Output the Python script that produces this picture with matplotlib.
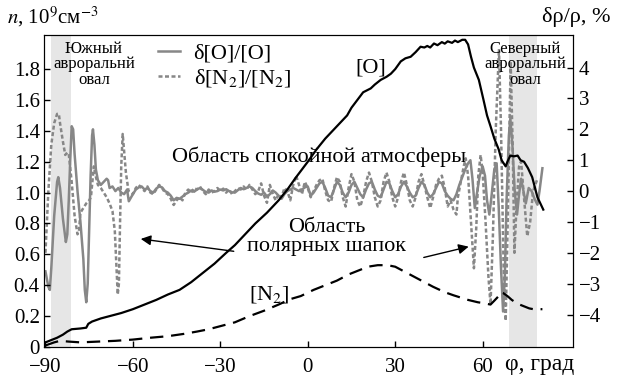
import matplotlib
matplotlib.use("Agg")
import matplotlib.pyplot as plt
from matplotlib.lines import Line2D

plt.rcParams["font.family"] = ["Liberation Serif", "DejaVu Serif"]
plt.rcParams["mathtext.fontset"] = "stix"

# ------------------------
# data
# ------------------------
# [O] concentration, 10^9 cm^-3 (left axis)
phi_O = [-90, -88, -86, -84, -82.5, -81, -78, -76, -75.3, -74, -71, -68, -64, -60, -56, -52,
         -48, -44, -40, -36, -32, -28, -25, -22, -18, -14, -10, -7, -4, -2, 0, 3, 6, 8, 11,
         13.5, 15, 17, 19, 21.6, 23, 25, 27, 28.5, 30, 31.9, 33.5, 35.3, 37, 38.7, 40, 41, 42,
         43.3, 44.5, 46, 47, 48, 49.5, 50.5, 51.5, 53, 54, 55, 56, 57, 58.7, 60.3, 61.5, 62.7,
         64, 65.5, 66.5, 67.9, 68.5, 69.5, 70.7, 72, 73, 74.2, 75.5, 77, 78.8, 80.8]
n_O = [0.03, 0.045, 0.06, 0.08, 0.1, 0.115, 0.12, 0.125, 0.15, 0.165, 0.185, 0.2, 0.22, 0.245,
       0.275, 0.305, 0.34, 0.37, 0.42, 0.48, 0.54, 0.61, 0.66, 0.72, 0.8, 0.87, 0.95, 1.02,
       1.1, 1.15, 1.2, 1.28, 1.35, 1.39, 1.45, 1.5, 1.55, 1.6, 1.65, 1.675, 1.7, 1.73, 1.75,
       1.77, 1.8, 1.85, 1.87, 1.88, 1.91, 1.945, 1.94, 1.95, 1.94, 1.966, 1.955, 1.975, 1.965,
       1.98, 1.97, 1.985, 1.975, 1.99, 1.99, 1.96, 1.88, 1.81, 1.73, 1.6, 1.5, 1.43, 1.35,
       1.28, 1.21, 1.17, 1.2, 1.24, 1.235, 1.24, 1.21, 1.2, 1.16, 1.1, 0.97, 0.89]

# [N2] concentration (left axis)
phi_N2 = [-90, -87, -85, -82, -78, -72, -66, -60, -54, -48, -42.5, -38, -34, -30, -25, -20,
          -15, -10, -6, -2.4, 2, 6, 10, 14, 18, 20.6, 24, 27.4, 30, 32, 36, 40, 43, 47, 50,
          52.5, 55, 58.3, 60, 62.7, 64, 65.5, 66.2, 67, 68.5, 70, 72, 74, 76, 77.4, 80.5]
n_N2 = [0.01, 0.03, 0.04, 0.035, 0.03, 0.035, 0.04, 0.048, 0.06, 0.07, 0.085, 0.1, 0.115,
        0.135, 0.16, 0.2, 0.235, 0.275, 0.31, 0.33, 0.37, 0.4, 0.43, 0.47, 0.5, 0.52, 0.53,
        0.53, 0.52, 0.5, 0.46, 0.42, 0.39, 0.355, 0.335, 0.32, 0.305, 0.29, 0.285, 0.275,
        0.3, 0.33, 0.355, 0.35, 0.33, 0.305, 0.28, 0.265, 0.25, 0.245, 0.245]

# quiet-zone latitudes, 1 degree apart
phi_mid = list(range(-60, 51))

# delta[O]/[O], % (right axis)
phi_dO_south = [-90, -89, -88.5, -88, -87, -86, -85.6, -85, -84, -83, -82.5, -82, -81.5, -81,
                -80.5, -80, -79, -78, -77, -76.5, -76, -75.5, -75, -74.5, -74, -73.7, -73.2,
                -72.7, -72, -71, -70, -69, -68.5, -68, -67, -66, -65, -64, -63, -62, -61.4]
dO_south = [-2.6, -3.1, -3.2, -2.5, -0.8, 0.3, 0.45, 0.1, -0.9, -1.65, -1.4, -0.3, 1.0, 2.1,
            2.0, 1.2, 0.0, -1.0, -2.2, -3.2, -3.6, -3.0, -1.2, 0.5, 1.8, 2.0, 1.5, 0.7, 0.35,
            0.2, 0.3, 0.4, 0.35, 0.1, 0.15, 0.0, 0.1, -0.05, -0.1, 0.05, -0.33]
dO_mid = [-0.1, 0.05, 0.12, 0.15, 0.05, 0.1, 0.0, -0.05, 0.08, 0.15, 0.12, 0.0, -0.05, -0.15,
          -0.3, -0.22, -0.25, -0.18, -0.1, -0.05, 0.02, -0.02, 0.05, 0.1, 0.04, -0.03, -0.05,
          0.02, -0.02, 0.0, 0.05, 0.02, 0.06, 0.0, -0.04, -0.05, 0.03, 0.1, 0.06, 0.1, 0.15,
          0.1, 0.0, -0.08, -0.12, -0.05, -0.18, -0.1, 0.02, -0.05, -0.15, -0.25, -0.1, 0.0,
          0.05, 0.1, 0.05, 0.0, 0.05, 0.12, 0.15, -0.15, -0.05, 0.1, 0.25, 0.3, 0.1, -0.15,
          -0.2, 0.05, 0.3, 0.2, -0.05, -0.2, -0.05, 0.2, 0.3, 0.1, -0.1, -0.2, 0.05, 0.25, 0.3,
          0.05, -0.15, -0.2, 0.05, 0.3, 0.25, 0.0, -0.2, -0.1, 0.15, 0.3, 0.15, -0.05, -0.2,
          -0.15, 0.1, 0.3, 0.2, -0.05, -0.2, -0.1, 0.1, 0.3, 0.25, 0.0, -0.15, -0.25, -0.3]
phi_dO_north = [51, 52, 53, 54, 55, 55.8, 56.5, 57.3, 58, 59, 60, 60.8, 61.5, 62.3, 63, 64,
                64.8, 65.5, 66.3, 67, 67.6, 68.2, 69, 69.5, 70.2, 71, 71.8, 72.5, 73.2, 74,
                74.8, 75.8, 76.8, 77.8, 78.8, 79.5, 80.5]
dO_north = [-0.1, 0.2, 0.45, 0.7, 0.9, 1.0, 0.4, -0.55, -0.1, 0.5, 0.8, 0.5, -0.3, -0.76,
            -0.2, 0.7, 0.9, -0.5, -2.5, -3.9, -2.8, -0.3, 1.8, 2.35, 1.5, 0.0, -0.76, -0.1,
            0.4, 0.0, -0.4, 0.1, 0.0, -0.25, -0.44, 0.0, 0.74]

# delta[N2]/[N2], % (right axis)
phi_dN_south = [-90, -89, -88, -87, -86, -85.4, -85, -84, -83.2, -82.5, -82, -81, -80, -79,
                -78.5, -78, -77, -76, -75, -74.4, -73.8, -73.4, -72.8, -72, -71, -70, -69,
                -68, -67, -66.2, -65.6, -65.2, -64.8, -64.4, -64, -63.5, -63, -62.4, -61.5]
dN_south = [-2.0, 0.0, 1.5, 2.2, 2.5, 2.5, 2.2, 1.6, 1.17, 1.25, 1.2, 0.3, -0.8, -1.4, -1.3,
            -0.7, -0.55, -0.4, -0.3, -0.2, 0.4, 0.8, 0.5, 0.2, 0.1, -0.05, -0.2, -0.4, -0.65,
            -1.3, -2.5, -3.35, -3.0, -1.0, 0.8, 1.85, 1.3, 0.6, 0.0]
dN_mid = [-0.1, 0.1, 0.2, 0.1, 0.0, 0.15, -0.05, -0.1, 0.05, 0.2, 0.1, -0.05, -0.1, -0.25,
          -0.45, -0.3, -0.2, -0.3, -0.05, 0.05, -0.05, 0.1, 0.05, 0.15, 0.0, -0.1, 0.05, -0.05,
          0.0, 0.1, 0.0, 0.08, -0.05, 0.05, -0.1, 0.0, 0.1, 0.05, 0.15, 0.05, 0.2, 0.05, -0.1,
          0.0, 0.25, -0.15, -0.38, 0.2, -0.1, -0.3, -0.1, -0.2, 0.1, 0.0, -0.3, 0.2, 0.5, 0.2,
          -0.1, 0.3, 0.1, -0.2, 0.0, 0.2, 0.35, 0.4, 0.0, -0.3, -0.35, 0.1, 0.45, 0.3, -0.2,
          -0.5, 0.1, 0.55, 0.3, -0.3, -0.5, -0.2, 0.3, 0.6, 0.3, -0.2, -0.5, -0.3, 0.3, 0.6,
          0.3, -0.2, -0.5, -0.2, 0.3, 0.6, 0.2, -0.3, -0.5, -0.2, 0.3, 0.55, 0.2, -0.2, -0.55,
          -0.2, 0.2, 0.4, 0.5, 0.1, -0.5, -0.3, -0.6]
phi_dN_north = [51, 51.5, 52.5, 53.5, 54.2, 55, 56, 57, 57.8, 58.5, 59.3, 60, 61, 62, 62.7,
                63.5, 64.5, 65.6, 66.3, 67.2, 67.9, 68.6, 69.6, 70.3, 70.9, 71.6, 72.5, 73.2,
                74, 75.3, 76.3, 77.3, 78.8]
dN_north = [-0.76, -0.2, 0.3, 0.8, 1.06, 0.5, -1.0, -2.5, -1.2, 0.5, 1.17, 0.6, -1.0, -2.8,
            -3.67, -1.5, 2.0, 4.6, 2.0, -2.5, -4.2, -1.0, 4.2, 1.5, -2.0, -0.5, 0.8, 0.96, 0.0,
            -1.46, -1.0, 0.0, 0.4]

phi_dO = phi_dO_south + phi_mid + phi_dO_north
dO = dO_south + dO_mid + dO_north
phi_dN = phi_dN_south + phi_mid + phi_dN_north
dN = dN_south + dN_mid + dN_north

# auroral ovals (latitude ranges)
south_oval = (-88, -81.3)
north_oval = (69, 78.5)

yticks_left = [0, 0.2, 0.4, 0.6, 0.8, 1.0, 1.2, 1.4, 1.6, 1.8]
yticklabels_left = ["0", "0.2", "0.4", "0.6", "0.8", "1.0", "1.2", "1.4", "1.6", "1.8"]
yticks_right = [-4, -3, -2, -1, 0, 1, 2, 3, 4]
xticks = [-90, -60, -30, 0, 30, 60]

# ------------------------
# plot
# ------------------------
grey = "#878787"
fig = plt.figure(figsize=(6.17, 3.78), dpi=100)
ax = fig.add_axes([0.0713, 0.082, 0.8574, 0.825])
ax2 = ax.twinx()
ax.set_zorder(ax2.get_zorder() + 1)
ax.patch.set_visible(False)

ax2.axvspan(*south_oval, color="#e6e6e6", lw=0, zorder=0)
ax2.axvspan(*north_oval, color="#e6e6e6", lw=0, zorder=0)
ax2.plot(phi_dO, dO, color=grey, lw=1.8, solid_joinstyle="round")
ax2.plot(phi_dN, dN, color=grey, lw=1.8, ls=(0, (1.6, 1.0)))

ax.plot(phi_O, n_O, color="black", lw=1.6)
ax.plot(phi_N2, n_N2, color="black", lw=1.6, ls=(0, (6, 3.5)))

ax.set_xlim(-90.5, 91)
ax.set_ylim(0, 2.02)
ax2.set_ylim(-5.05, 5.05)

ax.set_xticks(xticks)
ax.set_yticks(yticks_left)
ax.set_yticklabels(yticklabels_left)
ax2.set_yticks(yticks_right)
ax.tick_params(direction="in", length=4, labelsize=15, width=1)
ax2.tick_params(direction="in", length=4, labelsize=15, width=1, pad=4)
ax.tick_params(axis="y", pad=3)
ax.tick_params(axis="x", pad=8)

# texts
tk = dict(fontsize=16, ha="center", va="center")
ax.text(-73.4, 1.83, "Южный\nавроральнй\nовал", fontsize=12, ha="center", va="center",
        linespacing=0.95)
ax.text(74.7, 1.83, "Северный\nавроральнй\nовал", fontsize=12, ha="center", va="center",
        linespacing=0.95)
ax.text(21.6, 1.81, "[O]", **tk)
ax.text(-13.4, 0.34, "[N$_2$]", **tk)
ax.text(3.8, 1.23, "Область спокойной атмосферы", **tk)
ax.text(6.5, 0.71, "Область\nполярных шапок", linespacing=1.0, **tk)

arrow = dict(arrowstyle="-|>", color="black", lw=1.0, mutation_scale=15,
             shrinkA=0, shrinkB=0)
ax.annotate("", xy=(-57.3, 0.70), xytext=(-25.4, 0.62), arrowprops=arrow)
ax.annotate("", xy=(55.2, 0.65), xytext=(39.8, 0.58), arrowprops=arrow)

handles = [Line2D([], [], color=grey, lw=1.8),
           Line2D([], [], color=grey, lw=1.8, ls=(0, (1.6, 1.0)))]
ax.legend(handles, ["δ[O]/[O]", "δ[N$_2$]/[N$_2$]"], loc="upper left",
          bbox_to_anchor=(0.2155, 0.975), frameon=False, fontsize=16, handlelength=1.0,
          handletextpad=0.6, labelspacing=0.15, borderaxespad=0, borderpad=0)

fig.text(0.012, 0.955, "$n$, 10$^9$см$^{-3}$", fontsize=15, ha="left", va="center")
fig.text(0.99, 0.955, "δρ/ρ, %", fontsize=16, ha="right", va="center")
fig.text(0.818, 0.035, "φ, град", fontsize=17, ha="left", va="center")

fig.savefig("out.png", dpi=100)
